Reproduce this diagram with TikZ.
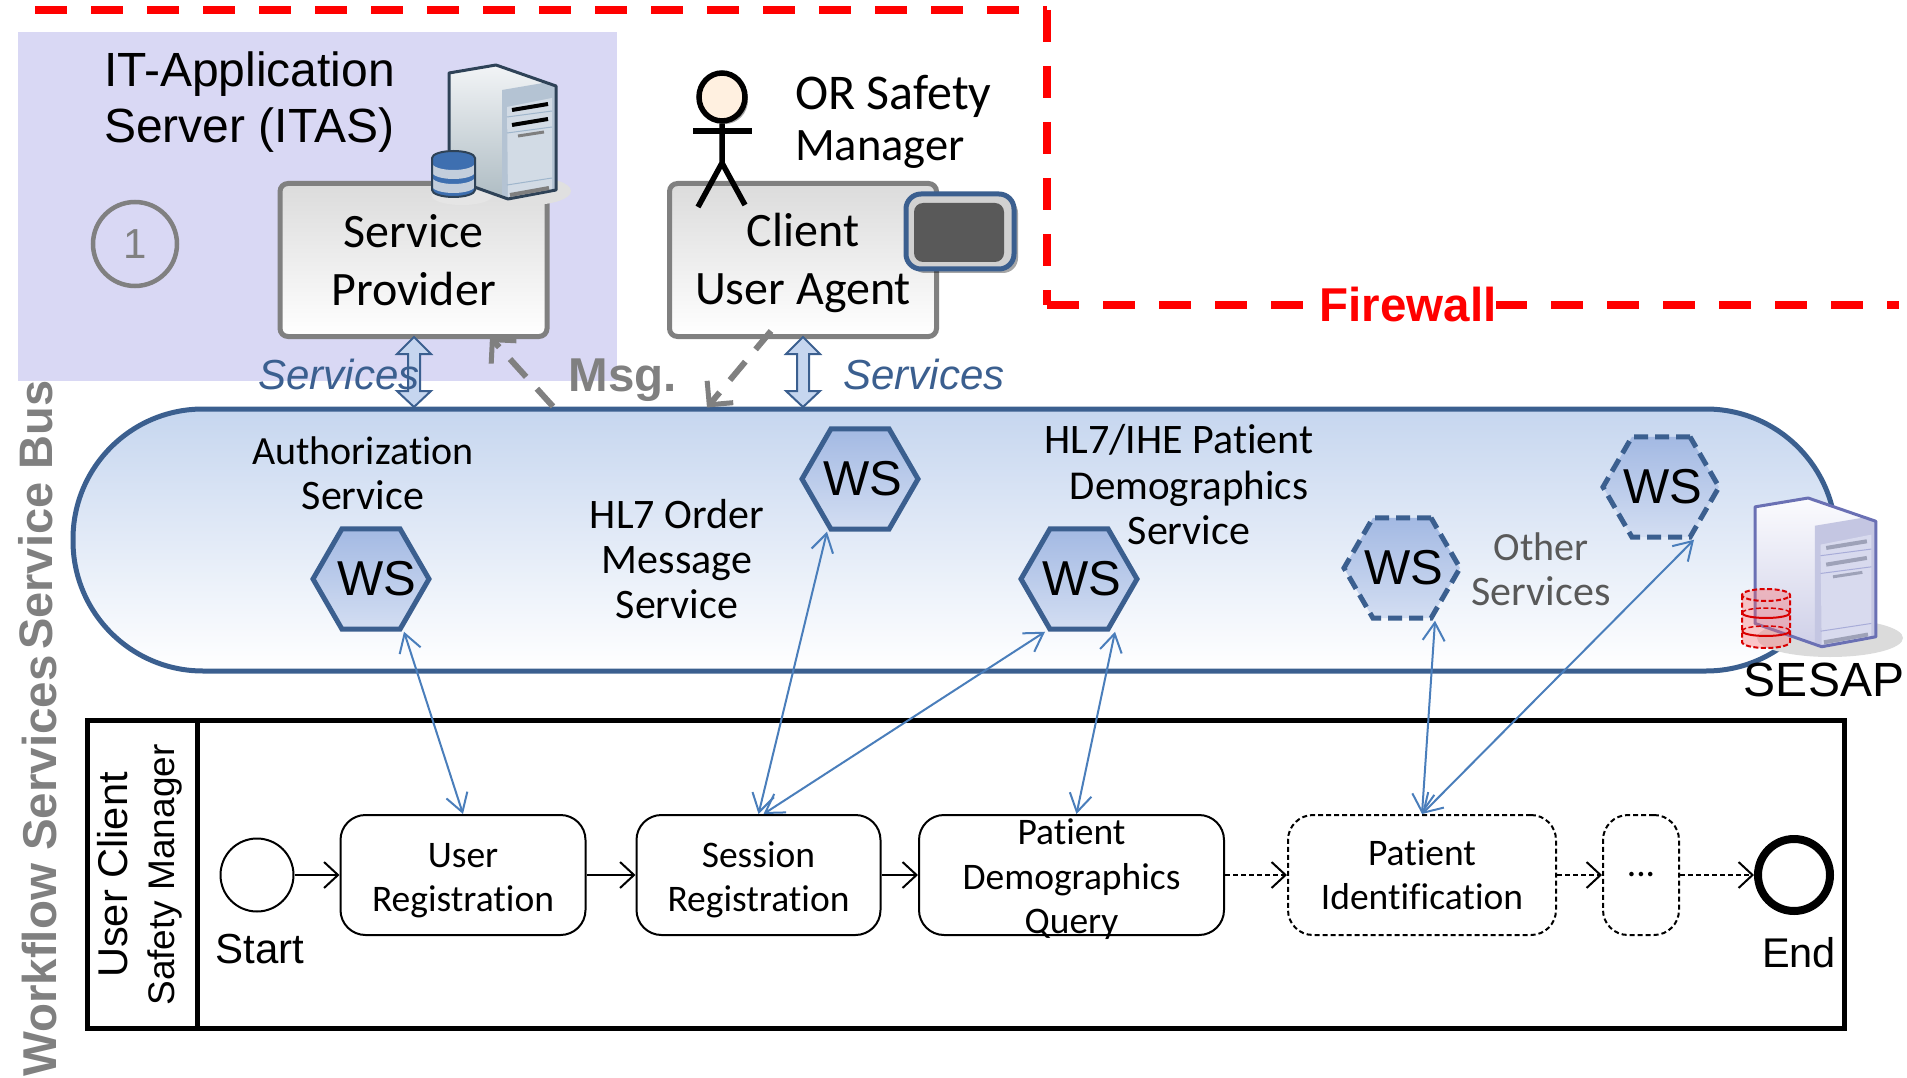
\documentclass[tikz,border=0pt]{standalone}
\usepackage{fontspec}
\usetikzlibrary{arrows.meta,shapes.geometric,shadows}
\newfontfamily\farial{Liberation Sans}
\newfontfamily\fcarl[Ligatures=NoCommon]{Carlito}
\definecolor{busblue}{HTML}{3B5F8F}
\definecolor{bustop}{HTML}{C6D6EF}
\definecolor{hextop}{HTML}{A3B9E3}
\definecolor{hexbot}{HTML}{D3DEF2}
\definecolor{linkblue}{HTML}{4A7EBB}
\definecolor{lav}{HTML}{D9D8F4}
\definecolor{midgray}{HTML}{808080}
\definecolor{fwred}{HTML}{FF0000}
\definecolor{dbblue}{HTML}{3E6FB0}
\definecolor{dbgrey}{HTML}{C3CEDC}
\newcommand{\upby}[1]{\rule{0pt}{#1pt}}
\newcommand{\wstext}[1]{\makebox[0pt]{\hspace*{#1pt}WS}}
\tikzset{
  fw/.style={draw=fwred,line width=8pt,dash pattern=on 32pt off 24pt},
  greybox/.style={draw=midgray,line width=5pt,rounded corners=8pt,top color=black!14,bottom color=white,minimum width=267pt,minimum height=153pt,inner sep=0pt,align=center,font=\fcarl\fontsize{48}{58}\selectfont},
  wshex/.style={regular polygon,regular polygon sides=6,minimum size=116pt,inner sep=0pt,draw=busblue,line width=5pt,top color=hextop,bottom color=hexbot,font=\farial\fontsize{49}{50}\selectfont},
  wsdash/.style={wshex,dash pattern=on 14pt off 7pt},
  blabel/.style={align=center,inner sep=0pt,font=\fcarl\fontsize{42}{45}\selectfont},
  tasknode/.style={draw=black,line width=2pt,rounded corners=25pt,fill=white,minimum height=120pt,inner sep=0pt,align=center,font=\fcarl\fontsize{37.5}{44}\selectfont},
  taskdash/.style={tasknode,dash pattern=on 5pt off 3pt},
  flow/.style={draw=black,line width=2pt,-{Straight Barb[length=14pt,width=26pt,line width=2pt]}},
  flowdash/.style={flow,dash pattern=on 5pt off 3pt},
  ws link/.style={draw=linkblue,line width=2pt,{Straight Barb[length=18pt,width=22pt,line width=2pt]}-{Straight Barb[length=18pt,width=22pt,line width=2pt]}},
  msglink/.style={draw=midgray,line width=6pt,dash pattern=on 24pt off 16pt,-{Straight Barb[length=17pt,width=34pt,line width=5pt]}},
  blockarr/.style={draw=busblue,line width=2pt,fill=bustop,line join=miter},
  arialtxt/.style={inner sep=0pt,align=left,font=\farial\fontsize{#1}{56}\selectfont},
}
% body of a server: colours are set by the caller
\newcommand{\serverbody}{%
  \path[shade,top color=srvtop,bottom color=srvbot] (0,8) -- (47,0) -- (107,21) -- (107,125) -- (59,134) -- (0,113) -- cycle;
  \path[fill=srvpanel] (53,25) -- (100,17) -- (107,21) -- (107,125) -- (59,133) -- (53,130) -- cycle;
  \path[fill=srvinner] (58,42) -- (103,33) -- (103,125) -- (59,132) -- cycle;
  \draw[draw=srvline,line width=3pt,line join=round] (0,8) -- (47,0) -- (107,21) -- (107,125) -- (59,134) -- (0,113) -- cycle;
  \draw[srvthin,line width=1pt] (58,52) -- (103,46) (58,68) -- (103,62) (58,120) -- (103,113);
  \draw[srvbar,line width=4pt] (63,45) -- (99,39) (63,60) -- (99,54);
  \draw[srvbarb,line width=3pt] (69,71) -- (95,67);
  \draw[srvbarb,line width=4pt] (61,130) -- (100,123);
}
\begin{document}
\begin{tikzpicture}[x=1pt,y=-1pt]
\useasboundingbox (0,0) rectangle (1907,1078);
% purple background
\path[fill=lav] (18,32) rectangle (617,381);
% firewall
\draw[fw] (35,10) -- (1047,10);
\draw[fw] (1047,10) -- (1047,305);
\draw[fw] (1047,305) -- (1899,305);
\node[fill=white,inner sep=0pt,text=fwred,font=\farial\bfseries\fontsize{47.5}{50}\selectfont] (fwl) at (1408,305) {Firewall};
% bus
\node[draw=busblue,line width=5pt,rounded corners=130pt,top color=bustop,bottom color=white,minimum width=1763pt,minimum height=262pt,inner sep=0pt] (bus) at (954.5,540) {};
% boxes
\node[greybox] (sp) at (413.5,260) {Service\\Provider};
\node[greybox] (client) at (803,260) {\upby{40}Client\\User Agent};
% ITAS title, marker
\node[arialtxt=48,anchor=base west] (itas) at (104,143) {IT-Application\\Server (ITAS)};
\node[circle,draw=midgray,line width=4.5pt,minimum size=84pt,inner sep=0pt,text=midgray,font=\farial\fontsize{42}{44}\selectfont] (one) at (135,244) {1};
% ITAS server
\fill[black!12] (530,191) ellipse (41 and 14);
\fill[black!10] (462,196) ellipse (30 and 9);
\definecolor{srvtop}{HTML}{F2F4F6}\definecolor{srvbot}{HTML}{AEBCC3}\definecolor{srvpanel}{HTML}{B4C3D3}\definecolor{srvinner}{HTML}{D2DBE5}\definecolor{srvline}{HTML}{2E4257}\definecolor{srvthin}{HTML}{9FB6CC}\definecolor{srvbar}{HTML}{000000}\definecolor{srvbarb}{HTML}{7F7F7F}
\begin{scope}[shift={(449,65)}]\serverbody\end{scope}
% ITAS db
\begin{scope}[shift={(432,151)}]
\path[fill=dbblue] (0,7) -- (0,39) arc[start angle=180,end angle=360,x radius=21.5pt,y radius=7pt] -- (43,7) arc[start angle=0,end angle=180,x radius=21.5pt,y radius=7pt] -- cycle;
\path[fill=dbgrey] (0,12) arc[start angle=180,end angle=360,x radius=21.5pt,y radius=7pt] -- (43,21) arc[start angle=360,end angle=180,x radius=21.5pt,y radius=7pt] -- cycle;
\path[fill=dbgrey] (0,26) arc[start angle=180,end angle=360,x radius=21.5pt,y radius=7pt] -- (43,35) arc[start angle=360,end angle=180,x radius=21.5pt,y radius=7pt] -- cycle;
\draw[srvline,line width=2pt] (0,7) -- (0,39) arc[start angle=180,end angle=360,x radius=21.5pt,y radius=7pt] -- (43,7) arc[start angle=0,end angle=180,x radius=21.5pt,y radius=7pt] -- cycle;
\end{scope}
% actor
\node[ellipse,draw=black,line width=5.5pt,fill=orange!12!white,minimum width=46pt,minimum height=48pt,inner sep=0pt,drop shadow={shadow xshift=3pt,shadow yshift=-3pt,opacity=.35,fill=black}] (head) at (722,97) {};
\draw[black,line width=5.5pt] (head.south) -- (722,163) -- (698,207);
\draw[black,line width=5.5pt] (722,163) -- (745,205);
\draw[black,line width=6pt] (693,131) -- (752,131);
\node[anchor=base west,inner sep=0pt,align=left,font=\fcarl\fontsize{50}{51}\selectfont] (mgr) at (795,161) {OR Safety\\{\fontsize{46.5}{51}\selectfont Manager}};
% screen
\node[draw=busblue,line width=5pt,rounded corners=15pt,fill=black!18,minimum width=108pt,minimum height=75pt,inner sep=0pt,drop shadow={shadow xshift=4pt,shadow yshift=-4pt,opacity=.35,fill=black}] (screen) at (960,231.5) {};
\node[fill=black!65,rounded corners=9pt,minimum width=90pt,minimum height=59pt,inner sep=0pt] (screeni) at (959,232.5) {};
% block arrows
\path[blockarr] (414,337) -- (431,354) -- (420,354) -- (420,391) -- (431,391) -- (414,407) -- (397,391) -- (408,391) -- (408,354) -- (397,354) -- cycle;
\path[blockarr] (803,337) -- (820,354) -- (809,354) -- (809,391) -- (820,391) -- (803,407) -- (786,391) -- (797,391) -- (797,354) -- (786,354) -- cycle;
\node[inner sep=0pt,text=busblue,font=\farial\itshape\fontsize{42}{44}\selectfont] (s1) at (339,374) {Services};
\node[inner sep=0pt,text=busblue,font=\farial\itshape\fontsize{42}{44}\selectfont] (s2) at (924,374) {Services};
\node[inner sep=0pt,text=midgray,font=\farial\bfseries\fontsize{47.5}{50}\selectfont] (msg) at (623,380) {Msg.};
\draw[msglink] ([xshift=-401.5pt]bus.north) -- ([xshift=76.5pt,yshift=2pt]sp.south);
\draw[msglink] ([xshift=-32pt,yshift=8pt]client.south) -- ([xshift=-247.5pt,yshift=-1pt]bus.north);
% services
\node[blabel] (authl) at (363,473) {{\fontsize{40}{45}\selectfont Authorization}\\Service};
\node[blabel] (hl7l) at (677,559) {HL7 Order\\Message\\Service};
\node[blabel] (hl7p1) at (1179,440) {HL7/IHE Patient};
\node[blabel] (hl7p2) at (1189,508) {{\fontsize{41}{45}\selectfont Demographics}\\Service};
\node[blabel,text=black!65] (other) at (1541,569) {{\fontsize{40}{45}\selectfont Other}\\Services};
\node[wshex] (wsA) at (371,579) {\wstext{12}};
\node[wshex] (wsB) at (860,479) {\wstext{5}};
\node[wshex] (wsC) at (1079,579) {\wstext{5}};
\node[wsdash] (wsD) at (1402,568) {\wstext{3}};
\node[wsdash] (wsE) at (1661,487) {\wstext{4}};
% SESAP
\fill[black!14] (1830,638) ellipse (73 and 19);
\definecolor{srvtop}{HTML}{FBFBFE}\definecolor{srvbot}{HTML}{CFD0E8}\definecolor{srvpanel}{HTML}{C4C6E2}\definecolor{srvinner}{HTML}{D8DAEE}\definecolor{srvline}{HTML}{6A70B4}\definecolor{srvthin}{HTML}{A8ACD8}\definecolor{srvbar}{HTML}{9EA2B8}\definecolor{srvbarb}{HTML}{9EA2B8}
\begin{scope}[shift={(1755,498)},xscale=1.13,yscale=1.11]\serverbody\end{scope}
\begin{scope}[shift={(1742,589)}]
\path[fill=red!60!white,fill opacity=.35] (0,6) -- (0,53) arc[start angle=180,end angle=360,x radius=24pt,y radius=6pt] -- (48,6) arc[start angle=0,end angle=180,x radius=24pt,y radius=6pt] -- cycle;
\draw[red!85!black,line width=2pt,dash pattern=on 5pt off 2.5pt] (0,6) -- (0,53) arc[start angle=180,end angle=360,x radius=24pt,y radius=6pt] -- (48,6) arc[start angle=0,end angle=180,x radius=24pt,y radius=6pt] arc[start angle=180,end angle=360,x radius=24pt,y radius=6pt];
\draw[red!85!black,line width=2pt] (0,24) arc[start angle=180,end angle=360,x radius=24pt,y radius=5pt] (0,42) arc[start angle=180,end angle=360,x radius=24pt,y radius=5pt];
\draw[red!85!black,line width=1.5pt,dash pattern=on 5pt off 2.5pt] (0,24) arc[start angle=180,end angle=0,x radius=24pt,y radius=5pt] (0,42) arc[start angle=180,end angle=0,x radius=24pt,y radius=5pt];
\end{scope}
\node[inner sep=0pt,font=\farial\fontsize{48}{50}\selectfont] (sesap) at (1824,680) {SESAP};
% vertical labels
\node[rotate=90,anchor=base west,inner sep=0pt,text=midgray,font=\farial\bfseries\fontsize{47.5}{50}\selectfont] (wfs) at (56,1077) {Workflow Services};
\node[rotate=90,anchor=base west,inner sep=0pt,text=midgray,font=\farial\bfseries\fontsize{47}{50}\selectfont] (sbus) at (52,650) {Service Bus};
% lane
\node[draw=black,line width=5pt,minimum width=1757pt,minimum height=308pt,inner sep=0pt] (lane) at (965.5,874) {};
\draw[black,line width=5pt] (197,720) -- (197,1028);
\node[rotate=90,inner sep=0pt,font=\farial\fontsize{41.6}{44}\selectfont] (uc) at (113,875) {User Client};
\node[rotate=90,inner sep=0pt,font=\farial\fontsize{37}{38}\selectfont] (sm) at (165,875) {Safety Manager};
% process
\node[circle,draw=black,line width=2pt,minimum size=73pt,inner sep=0pt] (start) at (257,875) {};
\node[inner sep=0pt,font=\farial\fontsize{42}{44}\selectfont] (startl) at (260,949) {Start};
\node[tasknode,minimum width=245pt] (t1) at (463,875) {\upby{35}User\\Registration};
\node[tasknode,minimum width=244pt] (t2) at (758.5,875) {\upby{35}Session\\Registration};
\node[tasknode,minimum width=305pt] (t3) at (1071.5,875) {};
\node[inner sep=0pt,align=center,font=\fcarl\fontsize{37.5}{44.5}\selectfont] (t3l) at (1071.5,875.5) {\upby{34}Patient\\Demographics\\Query};
\node[taskdash,minimum width=268pt] (t4) at (1422,875) {Patient\\Identification};
\node[taskdash,minimum width=76pt] (t5) at (1641,875) {...};
\node[circle,draw=black,line width=8pt,minimum size=72pt,inner sep=0pt] (endn) at (1794,875) {};
\node[inner sep=0pt,font=\farial\fontsize{41.5}{44}\selectfont] (endl) at (1799,953) {End};
\draw[flow] (start) -- (t1);
\draw[flow] (t1) -- (t2);
\draw[flow] (t2) -- (t3);
\draw[flowdash] (t3) -- (t4);
\draw[flowdash] (t4) -- (t5);
\draw[flowdash] (t5) -- (endn);
% service links
\draw[ws link] ([xshift=33pt]wsA.south) -- (t1.north);
\draw[ws link] ([xshift=-33pt]wsB.south) -- (t2.north);
\draw[ws link] ([xshift=-34pt]wsC.south) -- ([xshift=5pt]t2.north);
\draw[ws link] ([xshift=36pt]wsC.south) -- ([xshift=5pt]t3.north);
\draw[ws link] ([xshift=33pt]wsD.south) -- (t4.north);
\draw[ws link] ([xshift=33pt]wsE.south) -- (t4.north);
\end{tikzpicture}
\end{document}
